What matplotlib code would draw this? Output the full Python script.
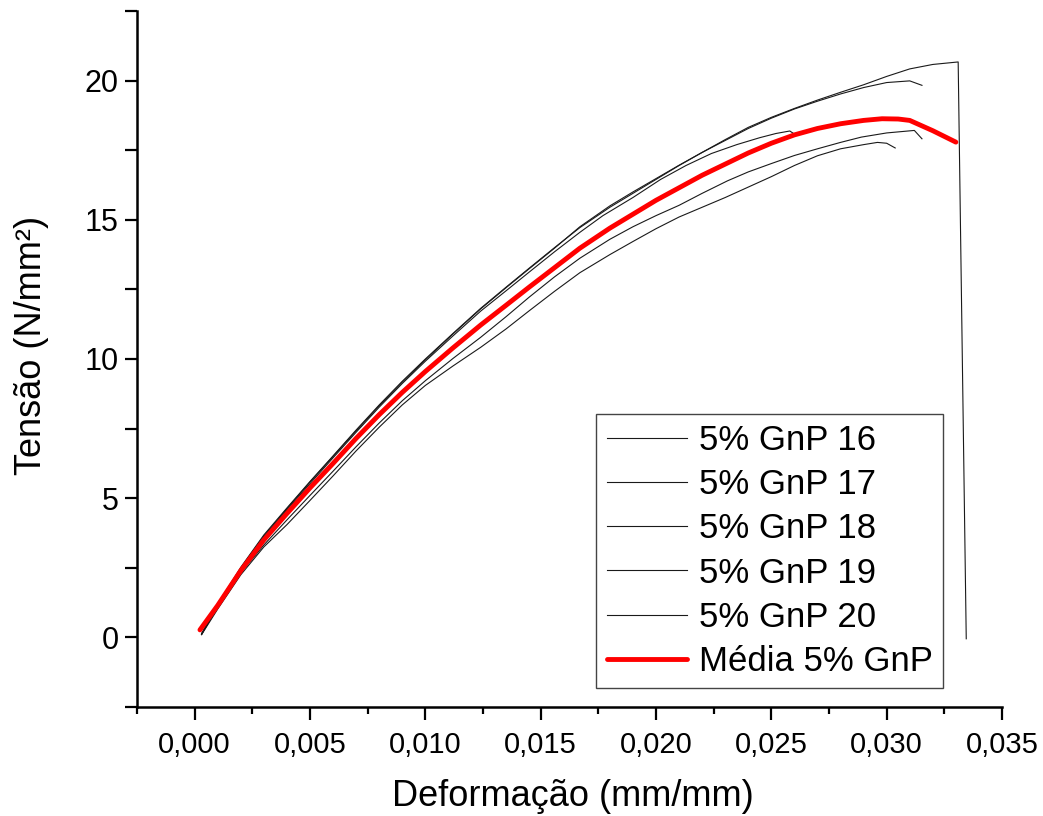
import matplotlib
matplotlib.use("Agg")
import matplotlib.pyplot as plt
from matplotlib.ticker import MultipleLocator, FuncFormatter

plt.rcParams["font.family"] = ["Liberation Sans", "DejaVu Sans"]

# Stress-strain curves, 5% GnP specimens (strain in mm/mm, stress in N/mm²)
strain_16 = [0.0003, 0.0010, 0.0020, 0.0030, 0.0040, 0.0050, 0.0060, 0.0070, 0.0080,
             0.0090, 0.0100, 0.0112, 0.0124, 0.0135, 0.0145, 0.0156, 0.0167, 0.0180,
             0.0190, 0.0200, 0.0210, 0.0220, 0.0230, 0.0240, 0.0250, 0.0260, 0.0270,
             0.0280, 0.0290, 0.0300, 0.0310, 0.0320, 0.0331, 0.03345]
stress_16 = [0.12, 1.20, 2.52, 3.68, 4.65, 5.60, 6.52, 7.45, 8.35,
             9.20, 10.00, 10.92, 11.82, 12.58, 13.26, 14.00, 14.72, 15.45,
             15.95, 16.45, 16.95, 17.42, 17.88, 18.32, 18.68, 19.00, 19.30,
             19.58, 19.85, 20.15, 20.42, 20.58, 20.67, -0.05]

strain_17 = [0.0003, 0.0010, 0.0020, 0.0030, 0.0040, 0.0050, 0.0060, 0.0070, 0.0080,
             0.0090, 0.0100, 0.0112, 0.0124, 0.0135, 0.0145, 0.0156, 0.0167, 0.0180,
             0.0190, 0.0200, 0.0210, 0.0220, 0.0230, 0.0240, 0.0250, 0.0260, 0.0270,
             0.0280, 0.0290, 0.0300, 0.0310, 0.03153]
stress_17 = [0.10, 1.15, 2.48, 3.64, 4.62, 5.58, 6.50, 7.42, 8.32,
             9.17, 9.97, 10.90, 11.80, 12.56, 13.24, 13.98, 14.75, 15.50,
             16.00, 16.48, 16.96, 17.42, 17.85, 18.28, 18.65, 18.98, 19.26,
             19.52, 19.75, 19.93, 19.99, 19.83]

strain_18 = [0.0003, 0.0010, 0.0020, 0.0030, 0.0040, 0.0050, 0.0060, 0.0070, 0.0080,
             0.0090, 0.0100, 0.0112, 0.0124, 0.0135, 0.0145, 0.0156, 0.0167, 0.0177,
             0.0190, 0.0202, 0.0213, 0.0224, 0.0235, 0.0245, 0.0252, 0.0258, 0.0260]
stress_18 = [0.14, 1.12, 2.46, 3.60, 4.58, 5.52, 6.45, 7.37, 8.27,
             9.12, 9.92, 10.83, 11.72, 12.45, 13.12, 13.85, 14.55, 15.15,
             15.80, 16.45, 16.95, 17.38, 17.70, 17.95, 18.10, 18.19, 18.08]

strain_19 = [0.0003, 0.0010, 0.0020, 0.0030, 0.0040, 0.0050, 0.0060, 0.0070, 0.0080,
             0.0090, 0.0100, 0.0112, 0.0124, 0.0135, 0.0145, 0.0156, 0.0167, 0.0180,
             0.0190, 0.0200, 0.0210, 0.0220, 0.0231, 0.0240, 0.0250, 0.0260, 0.0270,
             0.0280, 0.0289, 0.0300, 0.0312, 0.03153]
stress_19 = [0.12, 1.08, 2.32, 3.32, 4.22, 5.10, 5.97, 6.85, 7.70,
             8.50, 9.22, 10.02, 10.78, 11.52, 12.22, 12.95, 13.62, 14.30,
             14.75, 15.15, 15.52, 15.95, 16.40, 16.72, 17.02, 17.31, 17.55,
             17.78, 17.97, 18.12, 18.21, 17.91]

strain_20 = [0.0003, 0.0010, 0.0020, 0.0030, 0.0040, 0.0050, 0.0060, 0.0070, 0.0080,
             0.0090, 0.0100, 0.0112, 0.0124, 0.0135, 0.0145, 0.0156, 0.0167, 0.0180,
             0.0190, 0.0200, 0.0210, 0.0220, 0.0230, 0.0238, 0.0250, 0.0260, 0.0270,
             0.0280, 0.0290, 0.0296, 0.0300, 0.03037]
stress_20 = [0.10, 1.02, 2.25, 3.25, 4.05, 4.92, 5.80, 6.70, 7.55,
             8.35, 9.05, 9.75, 10.42, 11.08, 11.73, 12.43, 13.10, 13.75,
             14.22, 14.68, 15.10, 15.45, 15.80, 16.10, 16.55, 16.95, 17.30,
             17.55, 17.70, 17.78, 17.75, 17.58]

strain_mean = [0.00023, 0.0010, 0.0020, 0.0030, 0.0040, 0.0050, 0.0060, 0.0070, 0.0080,
               0.0090, 0.0100, 0.0112, 0.0124, 0.0135, 0.0145, 0.0156, 0.0167, 0.0180,
               0.0190, 0.0200, 0.0210, 0.0220, 0.0230, 0.0240, 0.0250, 0.0260, 0.0270,
               0.0280, 0.0290, 0.0298, 0.0305, 0.0310, 0.0320, 0.0330]
stress_mean = [0.27, 1.15, 2.40, 3.50, 4.45, 5.37, 6.25, 7.15, 8.00,
               8.80, 9.55, 10.40, 11.22, 11.93, 12.58, 13.28, 13.98, 14.70,
               15.20, 15.70, 16.15, 16.60, 17.00, 17.40, 17.75, 18.05, 18.28,
               18.45, 18.57, 18.63, 18.62, 18.57, 18.20, 17.79]

specimens = [
    ("5% GnP 16", strain_16, stress_16),
    ("5% GnP 17", strain_17, stress_17),
    ("5% GnP 18", strain_18, stress_18),
    ("5% GnP 19", strain_19, stress_19),
    ("5% GnP 20", strain_20, stress_20),
]
mean_label = "Média 5% GnP"

x_ticks = [0.000, 0.005, 0.010, 0.015, 0.020, 0.025, 0.030, 0.035]
y_ticks = [0, 5, 10, 15, 20]

fig = plt.figure(figsize=(10.43, 8.16), dpi=100)
ax = fig.add_axes([137 / 1043, 109 / 816, 865 / 1043, 696 / 816])

for label, xs, ys in specimens:
    ax.plot(xs, ys, color="#1a1a1a", lw=0.8, label=label, zorder=2)
ax.plot(strain_mean, stress_mean, color="#ff0000", lw=3.5, label=mean_label,
        solid_capstyle="round", zorder=3)

ax.set_xlim(-0.0025, 0.035)
ax.set_ylim(-2.5, 22.5)
ax.set_xticks(x_ticks)
ax.set_yticks(y_ticks)
ax.xaxis.set_minor_locator(MultipleLocator(0.0025))
ax.yaxis.set_minor_locator(MultipleLocator(2.5))
ax.xaxis.set_major_formatter(FuncFormatter(lambda v, _: f"{v:.3f}".replace(".", ",")))

for side in ("top", "right"):
    ax.spines[side].set_visible(False)
for side in ("left", "bottom"):
    ax.spines[side].set_linewidth(1.8)

ax.tick_params(axis="both", which="major", direction="out", length=9, width=1.6,
               colors="black")
ax.tick_params(axis="x", which="major", labelsize=21, pad=8)
ax.tick_params(axis="y", which="major", labelsize=22, pad=4)
ax.tick_params(axis="x", which="minor", direction="out", length=5, width=1.6)
ax.tick_params(axis="y", which="minor", direction="out", length=9, width=1.6)

ax.set_xlabel("Deformação (mm/mm)", fontsize=26, va="center")
ax.xaxis.set_label_coords(0.504, -0.129)
ax.set_ylabel("Tensão (N/mm²)", fontsize=26, va="center")
ax.yaxis.set_label_coords(-0.1225, 0.519)

leg = ax.legend(loc="lower right", bbox_to_anchor=(0.932, 0.027), borderaxespad=0,
                fontsize=25, frameon=True, fancybox=False, framealpha=1,
                edgecolor="#444444", handlelength=2.3, handletextpad=0.35,
                labelspacing=0.32, borderpad=0.3)
leg.get_frame().set_linewidth(1.0)

fig.savefig("out.png", dpi=100)
